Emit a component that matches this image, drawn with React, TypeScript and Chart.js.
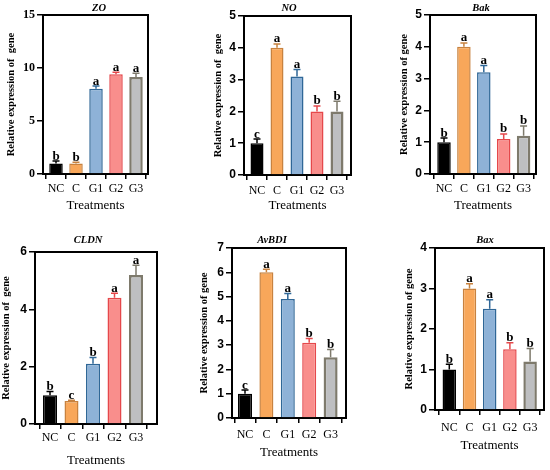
import { useEffect, useRef } from "react";
import { Chart, registerables } from "chart.js";

Chart.register(...registerables);

// ---------- data ----------
const categories = ["NC", "C", "G1", "G2", "G3"];

const zoMeans = [1.0, 1.0, 8.05, 9.4, 9.15];
const zoErrors = [0.22, 0.1, 0.25, 0.2, 0.35];
const zoLetters = ["b", "b", "a", "a", "a"];

const noMeans = [1.0, 4.0, 3.1, 2.0, 2.0];
const noErrors = [0.13, 0.12, 0.22, 0.17, 0.32];
const noLetters = ["c", "a", "a", "b", "b"];

const bakMeans = [1.0, 4.0, 3.2, 1.1, 1.2];
const bakErrors = [0.13, 0.12, 0.21, 0.16, 0.31];
const bakLetters = ["b", "a", "a", "b", "b"];

const cldnMeans = [1.0, 0.8, 2.1, 4.4, 5.2];
const cldnErrors = [0.13, 0.03, 0.22, 0.16, 0.34];
const cldnLetters = ["b", "c", "b", "a", "a"];

const avbdiMeans = [1.0, 6.0, 4.9, 3.1, 2.5];
const avbdiErrors = [0.15, 0.13, 0.23, 0.17, 0.32];
const avbdiLetters = ["c", "a", "a", "b", "b"];

const baxMeans = [1.0, 3.0, 2.5, 1.5, 1.2];
const baxErrors = [0.13, 0.12, 0.22, 0.16, 0.32];
const baxLetters = ["b", "a", "a", "b", "b"];

// ---------- styles ----------
const fillColors = ["#000000", "#F8A75A", "#8EB2D7", "#F98E8C", "#BEBFC1"];
const borderColors = ["#000000", "#C8823F", "#2F6797", "#E5484B", "#7E7A6C"];
const borderWidths = [1.5, 1.5, 1.5, 1.5, 2.5];

type Panel = {
  title: string;
  yTitle: string;
  means: number[];
  errors: number[];
  letters: string[];
  yMax: number;
  yStep: number;
  tickFont: string;
  // layout (page coordinates)
  L: number; T: number; R: number; B: number;
  c0: number; s: number; barW: number;
  titleX: number; titleY: number;
  ylabX: number; xlabY: number; treatY: number;
};

const panels: Panel[] = [
  {
    title: "ZO", yTitle: "Relative expression of  gene",
    means: zoMeans, errors: zoErrors, letters: zoLetters, yMax: 15, yStep: 5, tickFont: "Liberation Serif",
    L: 43, T: 15, R: 148, B: 174, c0: 56, s: 20, barW: 13.5,
    titleX: 99, titleY: 8.5, ylabX: 12, xlabY: 189, treatY: 206,
  },
  {
    title: "NO", yTitle: "Relative expression of  gene",
    means: noMeans, errors: noErrors, letters: noLetters, yMax: 5, yStep: 1, tickFont: "Liberation Sans",
    L: 244, T: 16, R: 351, B: 175, c0: 257, s: 20, barW: 13,
    titleX: 289, titleY: 8, ylabX: 219, xlabY: 191, treatY: 206,
  },
  {
    title: "Bak", yTitle: "Relative expression of gene",
    means: bakMeans, errors: bakErrors, letters: bakLetters, yMax: 5, yStep: 1, tickFont: "Liberation Sans",
    L: 430, T: 15, R: 536, B: 174, c0: 444, s: 19.9, barW: 13.5,
    titleX: 481, titleY: 8, ylabX: 405, xlabY: 189, treatY: 206,
  },
  {
    title: "CLDN", yTitle: "Relative expression of  gene",
    means: cldnMeans, errors: cldnErrors, letters: cldnLetters, yMax: 6, yStep: 2, tickFont: "Liberation Sans",
    L: 35, T: 252, R: 157, B: 424, c0: 50, s: 21.5, barW: 14,
    titleX: 88, titleY: 240, ylabX: 7, xlabY: 438, treatY: 461,
  },
  {
    title: "AvBDI", yTitle: "Relative expression of gene",
    means: avbdiMeans, errors: avbdiErrors, letters: avbdiLetters, yMax: 7, yStep: 1, tickFont: "Liberation Sans",
    L: 232, T: 248, R: 346, B: 418, c0: 245, s: 21.4, barW: 14,
    titleX: 272, titleY: 240, ylabX: 205, xlabY: 435, treatY: 453,
  },
  {
    title: "Bax", yTitle: "Relative expression of gene",
    means: baxMeans, errors: baxErrors, letters: baxLetters, yMax: 4, yStep: 1, tickFont: "Liberation Sans",
    L: 435, T: 248, R: 544, B: 410, c0: 449.3, s: 20.2, barW: 13.5,
    titleX: 485, titleY: 240, ylabX: 410, xlabY: 428, treatY: 446,
  },
];

const Y_TITLE_SIZE = 10.5;
const X_TICK_SIZE = 12;
const TREAT_SIZE = 13;
const X_TICK_LEN = 5;
const Y_TICK_LEN = 6;

function PanelChart({ p }: { p: Panel }) {
  const ref = useRef<HTMLCanvasElement | null>(null);

  const cx = Math.floor(p.ylabX - (Y_TITLE_SIZE * 1.2) / 2);
  const cy = p.T < 100 ? 0 : 232;
  const cw = Math.ceil(p.R + 5 - cx);
  const ch = Math.ceil(p.treatY + (TREAT_SIZE * 1.2) / 2 + 2 - cy);
  const padBottom = cy + ch - (p.treatY + (TREAT_SIZE * 1.2) / 2);

  useEffect(() => {
    if (!ref.current) return;
    const xMin = (p.L - p.c0) / p.s;
    const xMax = (p.R - p.c0) / p.s;
    const yW = p.L - cx;
    const xH = cy + ch - padBottom - p.B;
    const xPad = p.xlabY - p.B - X_TICK_LEN - (X_TICK_SIZE * 1.2) / 2;

    const overlay = {
      id: "overlay" + p.title,
      afterDatasetsDraw(chart: any) {
        const ctx = chart.ctx;
        const meta = chart.getDatasetMeta(0);
        const ys = chart.scales.y;
        meta.data.forEach((el: any, i: number) => {
          const top = ys.getPixelForValue(p.means[i] + p.errors[i]);
          ctx.save();
          ctx.strokeStyle = borderColors[i];
          ctx.lineWidth = 1.5;
          ctx.beginPath();
          ctx.moveTo(el.x, el.y);
          ctx.lineTo(el.x, top);
          ctx.moveTo(el.x - 3.5, top);
          ctx.lineTo(el.x + 3.5, top);
          ctx.stroke();
          ctx.fillStyle = "#000";
          ctx.font = 'bold 13px "Liberation Serif"';
          ctx.textAlign = "center";
          ctx.textBaseline = "alphabetic";
          ctx.fillText(p.letters[i], el.x, top - 1.5);
          ctx.restore();
        });
        const a = chart.chartArea;
        ctx.save();
        ctx.strokeStyle = "#000";
        ctx.lineWidth = 2;
        ctx.beginPath();
        ctx.moveTo(a.left - 1, a.top);
        ctx.lineTo(a.right, a.top);
        ctx.lineTo(a.right, a.bottom + 1);
        ctx.stroke();
        ctx.fillStyle = "#000";
        ctx.font = 'italic bold 10.5px "Liberation Serif"';
        ctx.textAlign = "center";
        ctx.textBaseline = "middle";
        ctx.fillText(p.title, p.titleX - cx, p.titleY - cy);
        ctx.restore();
      },
    };

    const chart = new Chart(ref.current, {
      type: "bar",
      data: {
        datasets: [
          {
            data: p.means.map((v, i) => ({ x: i, y: v })),
            backgroundColor: fillColors,
            borderColor: borderColors,
            borderWidth: borderWidths,
            barPercentage: p.barW / p.s,
            categoryPercentage: 1,
          } as any,
        ],
      },
      options: {
        responsive: false,
        animation: false,
        devicePixelRatio: 1,
        layout: {
          padding: { left: 0, top: p.T - cy, right: cx + cw - p.R, bottom: padBottom },
        },
        plugins: {
          legend: { display: false },
          tooltip: { enabled: false },
          title: { display: false },
        },
        scales: {
          x: {
            type: "linear",
            min: xMin,
            max: xMax,
            offset: false,
            afterBuildTicks: (s: any) => {
              s.ticks = categories.map((_, i) => ({ value: i }));
            },
            afterFit: (s: any) => {
              s.height = xH;
            },
            ticks: {
              callback: (v: any) => categories[v] ?? "",
              font: { family: "Liberation Serif", size: X_TICK_SIZE },
              color: "#000",
              padding: xPad,
              autoSkip: false,
              maxRotation: 0,
            },
            grid: {
              display: true,
              drawOnChartArea: false,
              drawTicks: true,
              tickLength: X_TICK_LEN,
              color: "#000",
              lineWidth: 1.5,
            },
            border: { display: true, color: "#000", width: 2 },
            title: {
              display: true,
              text: "Treatments",
              font: { family: "Liberation Serif", size: TREAT_SIZE },
              color: "#000",
              padding: 0,
            },
          },
          y: {
            min: 0,
            max: p.yMax,
            afterFit: (s: any) => {
              s.width = yW;
            },
            ticks: {
              stepSize: p.yStep,
              font: { family: p.tickFont, size: 12, weight: "bold" },
              color: "#000",
              padding: 2,
            },
            grid: {
              display: true,
              drawOnChartArea: false,
              drawTicks: true,
              tickLength: Y_TICK_LEN,
              color: "#000",
              lineWidth: 1.5,
            },
            border: { display: true, color: "#000", width: 2 },
            title: {
              display: true,
              text: p.yTitle,
              font: { family: "Liberation Serif", size: Y_TITLE_SIZE, weight: "bold" },
              color: "#000",
              padding: 0,
            },
          },
        },
      } as any,
      plugins: [overlay],
    });
    return () => chart.destroy();
  }, []);

  return (
    <canvas
      ref={ref}
      width={cw}
      height={ch}
      style={{ position: "absolute", left: cx, top: cy, width: cw, height: ch }}
    />
  );
}

export default function App() {
  return (
    <div
      style={{
        position: "absolute",
        left: 0,
        top: 0,
        width: 550,
        height: 470,
        background: "#fff",
        overflow: "hidden",
      }}
    >
      {panels.map((p) => (
        <PanelChart key={p.title} p={p} />
      ))}
    </div>
  );
}
